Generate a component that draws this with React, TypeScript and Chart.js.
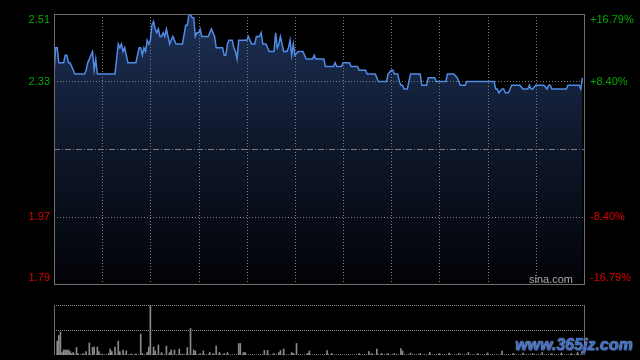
import React, { useEffect, useRef } from 'react';
import { Chart, registerables } from 'chart.js';

Chart.register(...registerables);

// ---- data (minutes since 09:30, HK session = 330 trading minutes) ----
const priceMinutes = [
  0, 1, 2, 3, 6, 7, 8, 9, 10, 11, 12, 13, 19, 20, 21, 23, 24, 25, 26, 27,
  38, 39, 40, 41, 42, 43, 44, 45, 46, 51, 52, 53, 54, 55, 56, 57, 58, 59, 60, 61,
  62, 63, 64, 65, 66, 67, 68, 69, 70, 71, 72, 73, 74, 75, 76, 80, 82, 83, 84, 85,
  86, 87, 88, 89, 90, 91, 92, 96, 97, 98, 100, 101, 105, 106, 107, 108, 109, 111, 112, 113,
  114, 115, 120, 121, 122, 123, 125, 126, 128, 129, 130, 132, 133, 134, 137, 138, 139, 140, 141, 143,
  145, 146, 147, 148, 149, 150, 152, 155, 157, 161, 162, 163, 168, 169, 174, 175, 176, 179, 180, 184,
  185, 189, 190, 194, 195, 200, 202, 207, 208, 210, 211, 212, 214, 215, 216, 217, 218, 220, 221, 222,
  228, 229, 232, 233, 237, 238, 244, 245, 249, 251, 253, 256, 257, 274, 275, 276, 277, 279, 280, 281,
  283, 285, 290, 292, 295, 296, 297, 298, 300, 305, 307, 308, 309, 310, 319, 320, 327, 328, 329
];
const priceValues = [
  2.35, 2.42, 2.42, 2.38, 2.38, 2.40, 2.40, 2.38, 2.38, 2.37, 2.36, 2.35, 2.35, 2.36, 2.38, 2.40, 2.41, 2.36, 2.39, 2.35,
  2.35, 2.39, 2.43, 2.42, 2.43, 2.41, 2.42, 2.40, 2.38, 2.38, 2.40, 2.42, 2.42, 2.40, 2.42, 2.41, 2.44, 2.43, 2.44, 2.48,
  2.49, 2.47, 2.46, 2.47, 2.45, 2.45, 2.46, 2.45, 2.47, 2.45, 2.43, 2.44, 2.45, 2.44, 2.43, 2.43, 2.48, 2.48, 2.51, 2.51,
  2.50, 2.50, 2.45, 2.46, 2.46, 2.47, 2.45, 2.45, 2.46, 2.47, 2.45, 2.42, 2.42, 2.40, 2.40, 2.43, 2.44, 2.44, 2.42, 2.41,
  2.39, 2.44, 2.44, 2.45, 2.44, 2.43, 2.43, 2.45, 2.45, 2.46, 2.43, 2.43, 2.42, 2.41, 2.41, 2.46, 2.42, 2.43, 2.45, 2.41,
  2.41, 2.42, 2.44, 2.40, 2.43, 2.40, 2.41, 2.41, 2.39, 2.39, 2.40, 2.39, 2.39, 2.37, 2.37, 2.38, 2.37, 2.37, 2.38, 2.38,
  2.37, 2.37, 2.36, 2.36, 2.35, 2.35, 2.33, 2.33, 2.35, 2.36, 2.36, 2.35, 2.35, 2.33, 2.32, 2.32, 2.31, 2.31, 2.33, 2.35,
  2.35, 2.32, 2.32, 2.34, 2.34, 2.33, 2.33, 2.35, 2.35, 2.34, 2.32, 2.32, 2.33, 2.33, 2.31, 2.31, 2.30, 2.31, 2.31, 2.30,
  2.30, 2.32, 2.32, 2.31, 2.31, 2.32, 2.31, 2.31, 2.32, 2.32, 2.31, 2.32, 2.32, 2.31, 2.31, 2.32, 2.32, 2.31, 2.34
];

const volumeMinutes = [
  0, 2, 3, 4, 5, 6, 7, 8, 9, 10, 11, 12, 14, 15, 18, 20, 22, 24, 25, 27,
  28, 30, 34, 35, 36, 38, 40, 41, 43, 45, 48, 51, 54, 55, 58, 59, 60, 62, 63, 65,
  67, 70, 72, 73, 75, 78, 80, 83, 85, 87, 88, 91, 93, 97, 99, 101, 103, 106, 108, 115,
  116, 118, 119, 131, 133, 137, 140, 141, 143, 148, 149, 151, 158, 159, 170, 173, 190, 196, 198, 201,
  204, 208, 212, 216, 217, 222, 228, 234, 240, 246, 252, 258, 264, 270, 279, 286, 292, 298, 304, 310,
  316, 322, 326, 329
];
const volumeValues = [
  25, 28, 39, 46, 5, 10, 10, 10, 10, 7, 3, 5, 15, 3, 3, 7, 24, 15, 16, 16,
  7, 2, 3, 12, 7, 16, 28, 7, 10, 8, 2, 2, 42, 3, 5, 16, 100, 16, 8, 20,
  5, 18, 5, 10, 10, 12, 2, 15, 53, 10, 8, 3, 8, 5, 3, 18, 5, 3, 5, 23,
  23, 5, 5, 9, 9, 3, 5, 9, 12, 5, 3, 23, 3, 8, 9, 3, 3, 7, 3, 12,
  3, 3, 3, 13, 8, 4, 3, 5, 3, 4, 3, 5, 3, 4, 8, 3, 4, 3, 5, 3,
  4, 3, 5, 6
];

const axisPrices = [2.51, 2.33, 1.97, 1.79];
const axisPriceLabels = ['2.51', '2.33', '1.97', '1.79'];
const axisPctLabels = ['+16.79%', '+8.40%', '-8.40%', '-16.79%'];
const prevClose = 2.15;
const priceMin = 1.79;
const priceMax = 2.51;
const sessionMinutes = 330;
const halfHourTicks = [30, 60, 90, 120, 150, 180, 210, 240, 270, 300];
const volumeMax = 100;
const volumeGridLevels = [50, 100];

const GREEN = '#00a800';
const RED = '#dd0000';
const FONT = '11px "Liberation Sans", Arial, sans-serif';

const pricePlugin = {
  id: 'priceDecor',
  beforeDatasetsDraw(chart: any) {
    const { ctx, chartArea: a, scales } = chart;
    const x = scales.x;
    const y = scales.y;
    ctx.save();
    ctx.lineWidth = 1;
    ctx.strokeStyle = '#7c7c7c';
    ctx.setLineDash([1, 2]);
    halfHourTicks.forEach((m) => {
      const px = Math.round(x.getPixelForValue(m)) + 0.5;
      ctx.beginPath();
      ctx.moveTo(px, a.top);
      ctx.lineTo(px, a.bottom);
      ctx.stroke();
    });
    axisPrices.forEach((v) => {
      if (v <= priceMin || v >= priceMax) return;
      const py = Math.round(y.getPixelForValue(v)) + 0.5;
      ctx.beginPath();
      ctx.moveTo(a.left, py);
      ctx.lineTo(a.right, py);
      ctx.stroke();
    });
    ctx.setLineDash([6, 2, 1, 2]);
    const pc = Math.round(y.getPixelForValue(prevClose)) + 0.5;
    ctx.beginPath();
    ctx.moveTo(a.left, pc);
    ctx.lineTo(a.right, pc);
    ctx.stroke();
    ctx.restore();
  },
  afterDraw(chart: any) {
    const { ctx, chartArea: a, scales } = chart;
    const y = scales.y;
    ctx.save();
    ctx.setLineDash([]);
    ctx.strokeStyle = '#6e6e6e';
    ctx.lineWidth = 1;
    ctx.strokeRect(a.left + 0.5, a.top + 0.5, a.right - a.left, a.bottom - a.top);
    ctx.font = FONT;
    ctx.textBaseline = 'middle';
    axisPrices.forEach((v, i) => {
      let py = y.getPixelForValue(v);
      py = Math.min(Math.max(py, a.top + 6), a.bottom - 6);
      ctx.fillStyle = v > prevClose ? GREEN : RED;
      ctx.textAlign = 'right';
      ctx.fillText(axisPriceLabels[i], a.left - 4, py);
      ctx.textAlign = 'left';
      ctx.fillText(axisPctLabels[i], a.right + 6, py);
    });
    ctx.fillStyle = '#a8a8a8';
    ctx.textAlign = 'right';
    ctx.textBaseline = 'alphabetic';
    ctx.fillText('sina.com', a.right - 11, a.bottom - 1);
    ctx.restore();
  },
};

const volumePlugin = {
  id: 'volumeDecor',
  beforeDatasetsDraw(chart: any) {
    const { ctx, chartArea: a, scales } = chart;
    const y = scales.y;
    ctx.save();
    ctx.lineWidth = 1;
    ctx.strokeStyle = '#8c8c8c';
    ctx.setLineDash([1, 1]);
    volumeGridLevels.forEach((v) => {
      const py = Math.round(y.getPixelForValue(v)) + 0.5;
      ctx.beginPath();
      ctx.moveTo(a.left, py);
      ctx.lineTo(a.right, py);
      ctx.stroke();
    });
    ctx.strokeStyle = '#6a6a6a';
    const pb = Math.round(y.getPixelForValue(0)) - 0.5;
    ctx.beginPath();
    ctx.moveTo(a.left, pb);
    ctx.lineTo(a.right, pb);
    ctx.stroke();
    ctx.restore();
  },
  afterDraw(chart: any) {
    const { ctx, chartArea: a } = chart;
    ctx.save();
    ctx.strokeStyle = '#6e6e6e';
    ctx.lineWidth = 1;
    ctx.beginPath();
    ctx.moveTo(a.left + 0.5, a.top);
    ctx.lineTo(a.left + 0.5, a.bottom);
    ctx.moveTo(a.right + 0.5, a.top);
    ctx.lineTo(a.right + 0.5, a.bottom);
    ctx.stroke();
    ctx.restore();
  },
};

export default function App() {
  const priceRef = useRef<HTMLCanvasElement>(null);
  const volRef = useRef<HTMLCanvasElement>(null);

  useEffect(() => {
    document.body.style.background = '#000';
    const priceChart = new Chart(priceRef.current as HTMLCanvasElement, {
      type: 'line',
      data: {
        datasets: [
          {
            data: priceMinutes.map((m, i) => ({ x: m, y: priceValues[i] })),
            borderColor: '#4f8ce8',
            borderWidth: 1.5,
            pointRadius: 0,
            tension: 0,
            fill: 'start',
            backgroundColor: (c: any) => {
              const a = c.chart.chartArea;
              if (!a) return '#14203a';
              const g = c.chart.ctx.createLinearGradient(0, a.top, 0, a.bottom);
              g.addColorStop(0, '#1e3056');
              g.addColorStop(0.45, '#0f192d');
              g.addColorStop(1, '#020307');
              return g;
            },
          },
        ],
      },
      options: {
        animation: false,
        responsive: false,
        devicePixelRatio: 1,
        events: [],
        layout: { padding: { left: 54, right: 56, top: 14, bottom: 6 } },
        scales: {
          x: { type: 'linear', min: 0, max: sessionMinutes, display: false },
          y: { type: 'linear', min: priceMin, max: priceMax, display: false },
        },
        plugins: {
          legend: { display: false },
          tooltip: { enabled: false },
          filler: { drawTime: 'beforeDatasetsDraw' },
        },
      } as any,
      plugins: [pricePlugin],
    });

    const volChart = new Chart(volRef.current as HTMLCanvasElement, {
      type: 'bar',
      data: {
        datasets: [
          {
            data: volumeMinutes.map((m, i) => ({ x: m, y: volumeValues[i] })),
            backgroundColor: '#8a8a8a',
            barThickness: 1,
          },
        ],
      },
      options: {
        animation: false,
        responsive: false,
        devicePixelRatio: 1,
        events: [],
        layout: { padding: { left: 54, right: 56, top: 10, bottom: 5 } },
        scales: {
          x: {
            type: 'linear',
            min: 0,
            max: sessionMinutes,
            offset: false,
            grid: { offset: false },
            display: false,
          },
          y: { type: 'linear', min: 0, max: volumeMax, display: false },
        },
        plugins: {
          legend: { display: false },
          tooltip: { enabled: false },
        },
      } as any,
      plugins: [volumePlugin],
    });

    return () => {
      priceChart.destroy();
      volChart.destroy();
    };
  }, []);

  return (
    <div
      style={{
        position: 'absolute',
        left: 0,
        top: 0,
        width: 640,
        height: 360,
        background: '#000',
        overflow: 'hidden',
      }}
    >
      <canvas ref={priceRef} width={640} height={290} style={{ position: 'absolute', left: 0, top: 0 }} />
      <canvas ref={volRef} width={640} height={65} style={{ position: 'absolute', left: 0, top: 295 }} />
      <span
        style={{
          position: 'absolute',
          left: 515,
          top: 336,
          font: 'italic bold 16px "Liberation Sans", Arial, sans-serif',
          color: '#3d6cc0',
          textShadow: '0 0 1px #e8eef8, 1px 1px 0 #1c2d5c',
          whiteSpace: 'nowrap',
        }}
      >
        www.365jz.com
      </span>
    </div>
  );
}
